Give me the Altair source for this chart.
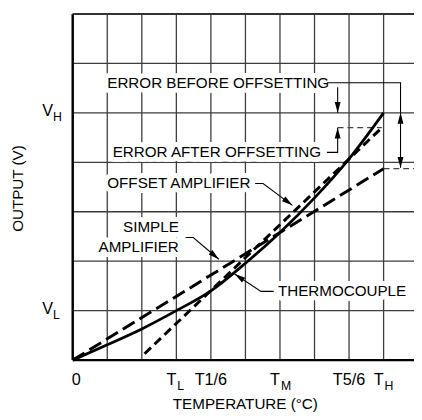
import altair as alt
import pandas as pd

FONT = "Liberation Sans"

# ---- data (grid units) ----
thermo_x = [0, 1, 2, 3, 4, 5, 6, 7, 8, 9]
thermo_y = [0, 0.31, 0.63, 1.0, 1.40, 1.96, 2.58, 3.28, 4.07, 5.0]
simple_x = [0, 9]
simple_y = [0, 3.87]
offset_x = [2.08, 8.95]
offset_y = [0.13, 4.70]

grid_x = [1, 2, 3, 4, 5, 6, 7, 8, 9]
grid_y = [1, 2, 3, 4, 5, 6]

x_zero_vals = [0]
x_zero_text = ["0"]
x_plain_vals = [4, 8]
x_plain_text = ["T1/6", "T5/6"]
x_sub_vals = [3, 6, 9]
x_sub_main = ["T", "T", "T"]
x_sub_text = ["L", "M", "H"]
y_tick_vals = [1, 5]
y_tick_main = ["V", "V"]
y_tick_sub = ["L", "H"]

# annotations
ann_left_text = ["ERROR BEFORE OFFSETTING", "OFFSET AMPLIFIER", "THERMOCOUPLE"]
ann_left_x = [1.0, 1.0, 5.94]
ann_left_y = [5.61, 3.57, 1.39]
ann_right_text = ["ERROR AFTER OFFSETTING", "SIMPLE", "AMPLIFIER"]
ann_right_x = [7.19, 3.07, 3.07]
ann_right_y = [4.20, 2.68, 2.28]

leader_id = ["b", "b", "b", "d", "d", "a", "a", "a", "o", "o", "o", "s", "s", "s", "t", "t", "t"]
leader_x = [7.36, 9.49, 9.49, 7.67, 7.67, 7.36, 7.67, 7.67, 5.28, 5.51, 6.36, 3.27, 3.49, 4.23, 5.82, 5.45, 4.69]
leader_y = [5.61, 5.61, 3.89, 5.52, 5.0, 4.20, 4.20, 4.70, 3.57, 3.57, 3.13, 2.48, 2.48, 2.04, 1.39, 1.39, 1.74]

arrow_x = [9.49, 9.49, 7.67, 7.67, 6.36, 4.23, 4.69]
arrow_y = [5.0, 3.89, 5.0, 4.70, 3.13, 2.04, 1.74]
arrow_angle = [0, 180, 180, 0, 126, 130, 304]

err_id = ["after", "after", "before", "before"]
err_x = [7.67, 8.95, 9.0, 9.88]
err_y = [4.70, 4.70, 3.87, 3.87]

XD = [0, 9.88]
YD = [0, 7]


def X(f):
    return alt.X(f"{f}:Q", scale=alt.Scale(domain=XD, nice=False, zero=False), axis=None)


def Y(f):
    return alt.Y(f"{f}:Q", scale=alt.Scale(domain=YD, nice=False, zero=False), axis=None)


GRID = "#3c3c3c"
FS = 15.5

vgrid = alt.Chart(pd.DataFrame({"gx": grid_x})).mark_rule(color=GRID, strokeWidth=1.3).encode(x=X("gx"))
hgrid = alt.Chart(pd.DataFrame({"gy": grid_y})).mark_rule(color=GRID, strokeWidth=1.3).encode(y=Y("gy"))
top_line = alt.Chart(pd.DataFrame({"gy": [7]})).mark_rule(color="#333333", strokeWidth=2).encode(y=Y("gy"))
left_axis = alt.Chart(pd.DataFrame({"gx": [0]})).mark_rule(color="black", strokeWidth=2.5).encode(x=X("gx"))
bottom_axis = alt.Chart(pd.DataFrame({"gy": [0]})).mark_rule(color="black", strokeWidth=2.5).encode(y=Y("gy"))

left_df = pd.DataFrame({"t": ann_left_text, "x": ann_left_x, "y": ann_left_y})
right_df = pd.DataFrame({"t": ann_right_text, "x": ann_right_x, "y": ann_right_y})


def ann_text(df, align, mask):
    kw = dict(font=FONT, fontSize=FS, align=align, baseline="middle")
    if mask:
        m = alt.Chart(df).mark_text(color="white", stroke="white", strokeWidth=10, strokeJoin="round", **kw)
    else:
        m = alt.Chart(df).mark_text(color="black", **kw)
    return m.encode(x=X("x"), y=Y("y"), text="t:N")


err_lines = alt.Chart(pd.DataFrame({"id": err_id, "x": err_x, "y": err_y})).mark_line(
    color="#444444", strokeWidth=1.3, strokeDash=[6, 4]
).encode(x=X("x"), y=Y("y"), detail="id:N")

thermo = alt.Chart(pd.DataFrame({"x": thermo_x, "y": thermo_y})).mark_line(
    color="black", strokeWidth=2.8, interpolate="monotone"
).encode(x=X("x"), y=Y("y"))
simple = alt.Chart(pd.DataFrame({"x": simple_x, "y": simple_y})).mark_line(
    color="black", strokeWidth=3, strokeDash=[14, 6]
).encode(x=X("x"), y=Y("y"))
offset = alt.Chart(pd.DataFrame({"x": offset_x, "y": offset_y})).mark_line(
    color="black", strokeWidth=3, strokeDash=[9, 5]
).encode(x=X("x"), y=Y("y"))

leaders = alt.Chart(pd.DataFrame({"id": leader_id, "x": leader_x, "y": leader_y,
                                  "k": list(range(len(leader_x)))})).mark_line(
    color="black", strokeWidth=1.1
).encode(x=X("x"), y=Y("y"), detail="id:N", order="k:Q")

arrows = alt.Chart(pd.DataFrame({"x": arrow_x, "y": arrow_y, "a": arrow_angle})).mark_point(
    shape="M0,0L-0.6,2.2L0.6,2.2Z", filled=True, color="black", size=100, opacity=1, strokeWidth=0
).encode(x=X("x"), y=Y("y"), angle=alt.Angle("a:Q", scale=None))

# tick labels
LBL_Y = 373
TFS = 16.5
SFS = 12.5
xzero = alt.Chart(pd.DataFrame({"v": x_zero_vals, "t": x_zero_text})).mark_text(
    font=FONT, fontSize=TFS, align="left", baseline="middle", color="black", dx=-1
).encode(x=X("v"), y=alt.value(LBL_Y), text="t:N")
xplain = alt.Chart(pd.DataFrame({"v": x_plain_vals, "t": x_plain_text})).mark_text(
    font=FONT, fontSize=TFS, align="center", baseline="middle", color="black"
).encode(x=X("v"), y=alt.value(LBL_Y), text="t:N")
xsubmain = alt.Chart(pd.DataFrame({"v": x_sub_vals, "t": x_sub_main})).mark_text(
    font=FONT, fontSize=TFS, align="right", baseline="middle", color="black", dx=0
).encode(x=X("v"), y=alt.value(LBL_Y), text="t:N")
xsub = alt.Chart(pd.DataFrame({"v": x_sub_vals, "t": x_sub_text})).mark_text(
    font=FONT, fontSize=SFS, align="left", baseline="middle", color="black", dx=1
).encode(x=X("v"), y=alt.value(LBL_Y + 6), text="t:N")

ymain = alt.Chart(pd.DataFrame({"v": y_tick_vals, "t": y_tick_main})).mark_text(
    font=FONT, fontSize=TFS, align="right", baseline="middle", color="black", dy=-2
).encode(x=alt.value(-20), y=Y("v"), text="t:N")
ysub = alt.Chart(pd.DataFrame({"v": y_tick_vals, "t": y_tick_sub})).mark_text(
    font=FONT, fontSize=SFS, align="left", baseline="middle", color="black", dy=4
).encode(x=alt.value(-20), y=Y("v"), text="t:N")

xtitle = alt.Chart(pd.DataFrame({"t": ["TEMPERATURE (°C)"]})).mark_text(
    font=FONT, fontSize=FS, align="center", baseline="middle", color="black"
).encode(x=alt.value(176), y=alt.value(398), text="t:N")
ytitle = alt.Chart(pd.DataFrame({"t": ["OUTPUT (V)"]})).mark_text(
    font=FONT, fontSize=FS, align="center", baseline="middle", color="black", angle=270
).encode(x=alt.value(-56), y=alt.value(178), text="t:N")

chart = alt.layer(
    vgrid, hgrid,
    ann_text(left_df, "left", True), ann_text(right_df, "right", True),
    top_line, left_axis, bottom_axis,
    err_lines, simple, offset, thermo,
    leaders, arrows,
    ann_text(left_df, "left", False), ann_text(right_df, "right", False),
    xzero, xplain, xsubmain, xsub, ymain, ysub, xtitle, ytitle,
).properties(
    width=348, height=353,
    autosize=alt.AutoSizeParams(type="none"),
    padding={"left": 66, "top": 2, "right": 0, "bottom": 57},
).configure_view(stroke=None)

chart.save("out.html", embed_options={"renderer": "svg", "actions": False})
